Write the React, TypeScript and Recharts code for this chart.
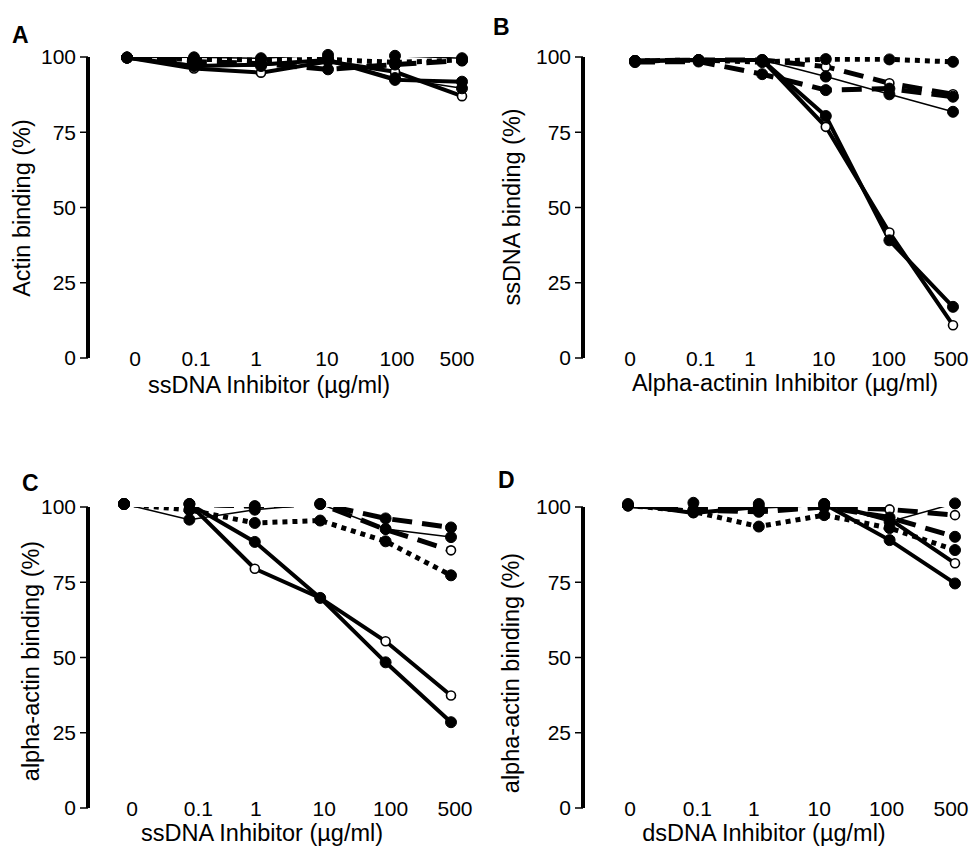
import React from 'react';
import { LineChart, Line, XAxis, YAxis } from 'recharts';

const FONT = '"Liberation Sans", Arial, Helvetica, sans-serif';

// x categories (inhibitor concentration, µg/ml)
const xLabels = ['0', '0.1', '1', '10', '100', '500'];
const yTicks = [0, 25, 50, 75, 100];

// Panel A — Actin binding vs ssDNA inhibitor
const aThickFilled = [99.8, 97, 97.5, 99, 92.4, 91.8];
const aThickOpen = [99.8, 96.2, 94.8, 98.5, 95.1, 87];
const aThinFilled = [99.8, 99.9, 99.6, 100.7, 100.4, 99.6];
const aThinFilled2 = [99.8, 97.5, 97, 99.5, 93, 89.6];
const aDashedFilled = [99.8, 98.5, 97.8, 95.9, 97.5, 98.8];
const aDottedFilled = [99.8, 99.2, 99, 99.2, 98.2, 99];

// Panel B — ssDNA binding vs alpha-actinin inhibitor
const bThickFilled = [98.7, 99, 99, 80.4, 39.1, 17];
const bThickOpen = [98.7, 99, 99, 76.8, 41.7, 10.9];
const bThinFilled = [98.7, 99, 99, 93.5, 87.6, 81.8];
const bDashedFilled = [98.3, 98.5, 94.3, 89, 89.5, 86.8];
const bDashedOpen = [98.7, 99, 99, 96.8, 91.3, 87.6];
const bDottedFilled = [98.7, 99, 98.3, 99.3, 99.2, 98.4];

// Panel C — alpha-actin binding vs ssDNA inhibitor
const cThickFilled = [101, 101, 88.4, 69.8, 48.4, 28.5];
const cThickOpen = [101, 101, 79.5, 69.8, 55.4, 37.4];
const cThinFilled = [101, 95.8, 99.1, 101, 92.7, 90];
const cDashedFilled = [101, 101, 100.3, 101, 96.2, 93.2];
const cDashedOpen = [101, 101, 100.3, 101, 92.5, 85.6];
const cDottedFilled = [101, 99, 94.7, 95.5, 88.6, 77.3];

// Panel D — alpha-actin binding vs dsDNA inhibitor
const dThickFilled = [101, 101.4, 101, 101, 89, 74.6];
const dThickOpen = [101, 98, 100, 101, 96, 81.3];
const dThinFilled = [100.5, 98.2, 100, 101, 95.1, 101.2];
const dDashedFilled = [100.5, 99, 98.4, 100, 96.5, 90.1];
const dDashedOpen = [100.5, 99.5, 99, 100, 99.2, 97.3];
const dDottedFilled = [100.5, 98.5, 93.5, 97.3, 93, 85.7];

type StyleKey = 'thick' | 'thin' | 'dashed' | 'dotted';
const LINE_STYLES: Record<StyleKey, { w: number; dash?: string }> = {
  thick: { w: 4 },
  thin: { w: 1.5 },
  dashed: { w: 5, dash: '20 10' },
  dotted: { w: 5, dash: '5 5' },
};

type SeriesDef = { key: string; values: number[]; style: StyleKey; open: boolean };

const panels = [
  {
    letter: 'A', left: 0, top: 0, width: 485, height: 420,
    margin: { top: 57, right: 15, bottom: 0, left: 0 }, yWidth: 88, xHeight: 62,
    pad: { left: 39, right: 8 }, labelDx: [8, 2, -5, -1, 2, -5],
    yTitle: 'Actin binding (%)', xTitle: 'ssDNA Inhibitor (\u00b5g/ml)',
    letterPos: [12, 35], yTitlePos: [23, 208], xTitlePos: [269, 386],
    series: [
      { key: 'dot', values: aDottedFilled, style: 'dotted', open: false },
      { key: 'dash', values: aDashedFilled, style: 'dashed', open: false },
      { key: 'thin', values: aThinFilled, style: 'thin', open: false },
      { key: 'thin2', values: aThinFilled2, style: 'thin', open: false },
      { key: 'thick', values: aThickFilled, style: 'thick', open: false },
      { key: 'thickO', values: aThickOpen, style: 'thick', open: true },
    ] as SeriesDef[],
  },
  {
    letter: 'B', left: 485, top: 0, width: 485, height: 420,
    margin: { top: 57, right: 0, bottom: 0, left: 0 }, yWidth: 98, xHeight: 62,
    pad: { left: 52, right: 17 }, labelDx: [-5, 2, -12, -2, -1, -2],
    yTitle: 'ssDNA binding (%)', xTitle: 'Alpha-actinin Inhibitor (\u00b5g/ml)',
    letterPos: [8, 27], yTitlePos: [28, 207], xTitlePos: [300, 384],
    series: [
      { key: 'dot', values: bDottedFilled, style: 'dotted', open: false },
      { key: 'dash', values: bDashedFilled, style: 'dashed', open: false },
      { key: 'dashO', values: bDashedOpen, style: 'dashed', open: true },
      { key: 'thin', values: bThinFilled, style: 'thin', open: false },
      { key: 'thick', values: bThickFilled, style: 'thick', open: false },
      { key: 'thickO', values: bThickOpen, style: 'thick', open: true },
    ] as SeriesDef[],
  },
  {
    letter: 'C', left: 0, top: 420, width: 485, height: 426,
    margin: { top: 87, right: 15, bottom: 0, left: 0 }, yWidth: 88, xHeight: 38,
    pad: { left: 36, right: 19 }, labelDx: [8, 9, 1, 4, 5, 4],
    yTitle: 'alpha-actin binding (%)', xTitle: 'ssDNA Inhibitor (\u00b5g/ml)',
    letterPos: [22, 63], yTitlePos: [32, 241], xTitlePos: [262, 414],
    series: [
      { key: 'dot', values: cDottedFilled, style: 'dotted', open: false },
      { key: 'dash', values: cDashedFilled, style: 'dashed', open: false },
      { key: 'dashO', values: cDashedOpen, style: 'dashed', open: true },
      { key: 'thin', values: cThinFilled, style: 'thin', open: false },
      { key: 'thick', values: cThickFilled, style: 'thick', open: false },
      { key: 'thickO', values: cThickOpen, style: 'thick', open: true },
    ] as SeriesDef[],
  },
  {
    letter: 'D', left: 485, top: 420, width: 485, height: 426,
    margin: { top: 87, right: 0, bottom: 0, left: 0 }, yWidth: 98, xHeight: 38,
    pad: { left: 45, right: 15 }, labelDx: [2, 4, -5, -5, -3, -4],
    yTitle: 'alpha-actin binding (%)', xTitle: 'dsDNA Inhibitor (\u00b5g/ml)',
    letterPos: [13, 60], yTitlePos: [27, 253], xTitlePos: [279, 414],
    series: [
      { key: 'dot', values: dDottedFilled, style: 'dotted', open: false },
      { key: 'dash', values: dDashedFilled, style: 'dashed', open: false },
      { key: 'dashO', values: dDashedOpen, style: 'dashed', open: true },
      { key: 'thin', values: dThinFilled, style: 'thin', open: false },
      { key: 'thick', values: dThickFilled, style: 'thick', open: false },
      { key: 'thickO', values: dThickOpen, style: 'thick', open: true },
    ] as SeriesDef[],
  },
];

const XTick = (props: any) => {
  const { x, y, payload, labelDx } = props;
  const i = payload.value as number;
  return (
    <text x={x + (labelDx?.[i] ?? 0)} y={y} dy="0.36em" textAnchor="middle" fontSize={21} fontFamily={FONT} fill="#000">
      {xLabels[i]}
    </text>
  );
};

const OPEN_DOT = { r: 4.5, fill: '#fff', stroke: '#000', strokeWidth: 1.6, strokeDasharray: 'none' };
const FILLED_DOT = { r: 5.5, fill: '#000', stroke: '#000', strokeWidth: 1, strokeDasharray: 'none' };

function Panel({ p }: { p: (typeof panels)[number] }) {
  const data = xLabels.map((_, i) => {
    const row: Record<string, number> = { i };
    p.series.forEach((s) => (row[s.key] = s.values[i]));
    return row;
  });
  const openSeries = p.series.filter((s) => s.open);
  const filledSeries = p.series.filter((s) => !s.open);
  return (
    <div style={{ position: 'absolute', left: p.left, top: p.top, width: p.width, height: p.height }}>
      <LineChart width={p.width} height={p.height} data={data} margin={p.margin} style={{ overflow: 'visible' }}>
        <XAxis
          type="number"
          dataKey="i"
          domain={[0, 5]}
          ticks={[0, 1, 2, 3, 4, 5]}
          interval={0}
          axisLine={false}
          tickLine={false}
          tickSize={0}
          tickMargin={0}
          height={p.xHeight}
          padding={p.pad}
          tick={<XTick labelDx={p.labelDx} />}
        />
        <YAxis
          type="number"
          domain={[0, 100]}
          ticks={yTicks}
          allowDataOverflow
          width={p.yWidth}
          axisLine={{ stroke: '#000', strokeWidth: 4 }}
          tickLine={{ stroke: '#000', strokeWidth: 1.5 }}
          tickSize={8}
          tickMargin={4}
          tick={{ fontSize: 21, fill: '#000', fontFamily: FONT }}
        />
        {/* connecting lines */}
        {p.series.map((s) => {
          const st = LINE_STYLES[s.style];
          return (
            <Line
              key={'l-' + s.key}
              dataKey={s.key}
              type="linear"
              stroke="#000"
              strokeWidth={st.w}
              strokeDasharray={st.dash}
              isAnimationActive={false}
              dot={false}
              activeDot={false}
            />
          );
        })}
        {/* open markers, then filled markers on top */}
        {[...openSeries, ...filledSeries].map((s) => (
          <Line
            key={'m-' + s.key}
            dataKey={s.key}
            type="linear"
            stroke="none"
            strokeWidth={0}
            isAnimationActive={false}
            dot={s.open ? OPEN_DOT : FILLED_DOT}
            activeDot={false}
          />
        ))}
      </LineChart>
      <div
        style={{
          position: 'absolute', left: p.letterPos[0], top: p.letterPos[1], transform: 'translateY(-50%)',
          fontFamily: FONT, fontWeight: 'bold', fontSize: 23, lineHeight: 1,
        }}
      >
        {p.letter}
      </div>
      <div
        style={{
          position: 'absolute', left: p.yTitlePos[0], top: p.yTitlePos[1],
          transform: 'translate(-50%, -50%) rotate(-90deg)', whiteSpace: 'nowrap',
          fontFamily: FONT, fontSize: 23.5, lineHeight: 1,
        }}
      >
        {p.yTitle}
      </div>
      <div
        style={{
          position: 'absolute', left: p.xTitlePos[0], top: p.xTitlePos[1],
          transform: 'translate(-50%, -50%)', whiteSpace: 'nowrap',
          fontFamily: FONT, fontSize: 23.5, lineHeight: 1,
        }}
      >
        {p.xTitle}
      </div>
    </div>
  );
}

export default function App() {
  return (
    <div style={{ position: 'fixed', left: 0, top: 0, width: 970, height: 846, background: '#fff', overflow: 'hidden' }}>
      <style>{'.nc .recharts-layer, .nc g { clip-path: none !important; }'}</style>
      <div className="nc">
        {panels.map((p) => (
          <Panel key={p.letter} p={p} />
        ))}
      </div>
    </div>
  );
}
